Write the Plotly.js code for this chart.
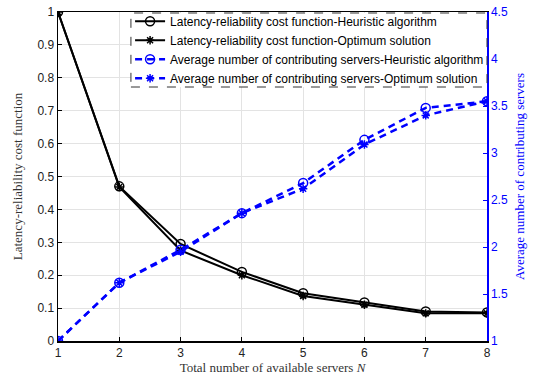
<!DOCTYPE html>
<html>
<head>
<meta charset="utf-8">
<script src="https://cdn.plot.ly/plotly-3.0.1.min.js"></script>
<style>html,body{margin:0;padding:0;background:#fff;}#chart{width:542px;height:380px;}</style>
</head>
<body>
<div id="chart"></div>
<script>
const N = [1, 2, 3, 4, 5, 6, 7, 8];
const costHeuristic = [1.0, 0.47, 0.295, 0.21, 0.145, 0.117, 0.09, 0.087];
const costOptimum = [1.0, 0.468, 0.275, 0.2, 0.137, 0.11, 0.084, 0.084];
const serversHeuristic = [1.0, 1.62, 1.97, 2.36, 2.68, 3.14, 3.48, 3.55];
const serversOptimum = [1.0, 1.62, 1.95, 2.36, 2.62, 3.09, 3.40, 3.55];
const names = [
  'Latency-reliability cost function-Heuristic algorithm',
  'Latency-reliability cost function-Optimum solution',
  'Average number of contributing servers-Heuristic algorithm',
  'Average number of contributing servers-Optimum solution'
];
const xTicks = [1, 2, 3, 4, 5, 6, 7, 8];
const yTicks = [0, 0.1, 0.2, 0.3, 0.4, 0.5, 0.6, 0.7, 0.8, 0.9, 1];
const y2Ticks = [1, 1.5, 2, 2.5, 3, 3.5, 4, 4.5];

const traces = [
  {x: N, y: costHeuristic, name: names[0], mode: 'lines+markers',
   line: {color: '#000', width: 2}, marker: {symbol: 'circle-open', size: 9, color: '#000', line: {width: 1.5}}},
  {x: N, y: costOptimum, name: names[1], mode: 'lines+markers',
   line: {color: '#000', width: 2}, marker: {symbol: 'asterisk-open', size: 7, color: '#000', line: {width: 1.5}}},
  {x: N, y: serversHeuristic, name: names[2], mode: 'lines+markers', yaxis: 'y2',
   line: {color: '#0000ff', width: 2.5, dash: '7px,5px'}, marker: {symbol: 'circle-open', size: 9, color: '#0000ff', line: {width: 1.5}}},
  {x: N, y: serversOptimum, name: names[3], mode: 'lines+markers', yaxis: 'y2',
   line: {color: '#0000ff', width: 2.5, dash: '7px,5px'}, marker: {symbol: 'asterisk-open', size: 7, color: '#0000ff', line: {width: 1.5}}}
];

const tickFont = {family: 'Liberation Sans, Arial, sans-serif', size: 12, color: '#222'};
const layout = {
  width: 542, height: 380,
  margin: {l: 58, r: 55, t: 12, b: 39, autoexpand: false},
  paper_bgcolor: '#fff', plot_bgcolor: '#fff',
  showlegend: true,
  legend: {
    x: 0.168, y: 1.016, xanchor: 'left', yanchor: 'top',
    bgcolor: 'rgba(0,0,0,0)', borderwidth: 0,
    font: {family: 'Liberation Sans, Arial, sans-serif', size: 12, color: '#000'},
    tracegroupgap: 0, itemwidth: 30
  },
  xaxis: {
    range: [1, 8], tickvals: xTicks, ticktext: xTicks.map(String),
    showgrid: true, gridcolor: '#e3e3e3', gridwidth: 1,
    showline: true, linecolor: '#000', linewidth: 1.5, mirror: true,
    ticks: 'inside', ticklen: 4, tickcolor: '#000',
    zeroline: false, tickfont: tickFont,
    title: {text: 'Total number of available servers <i>N</i>', standoff: 4,
            font: {family: 'Liberation Serif, DejaVu Serif, serif', size: 13, color: '#333'}}
  },
  yaxis: {
    range: [0, 1], tickvals: yTicks, ticktext: yTicks.map(String),
    showgrid: true, gridcolor: '#e3e3e3', gridwidth: 1,
    showline: true, linecolor: '#000', linewidth: 1.5,
    ticks: 'inside', ticklen: 4, tickcolor: '#000',
    zeroline: false, tickfont: tickFont,
    title: {text: 'Latency-reliability cost function', standoff: 12,
            font: {family: 'Liberation Serif, DejaVu Serif, serif', size: 13, color: '#333'}}
  },
  yaxis2: {
    overlaying: 'y', side: 'right', range: [1, 4.5],
    tickvals: y2Ticks, ticktext: y2Ticks.map(String),
    showgrid: false, showline: true, linecolor: '#0000ff', linewidth: 1.5,
    ticks: 'inside', ticklen: 4, tickcolor: '#0000ff',
    zeroline: false,
    tickfont: {family: 'Liberation Sans, Arial, sans-serif', size: 12, color: '#0000ff'},
    title: {text: 'Average number of contributing servers', standoff: 8,
            font: {family: 'Liberation Serif, DejaVu Serif, serif', size: 13, color: '#0000ff'}}
  },
  shapes: [{
    type: 'rect', xref: 'paper', yref: 'paper', layer: 'above',
    x0: 0.170, x1: 1.0, y0: 0.772, y1: 0.997,
    fillcolor: '#fff', line: {color: '#333', width: 1, dash: 'dash'}
  }]
};

Plotly.newPlot('chart', traces, layout, {displayModeBar: false, staticPlot: true});
</script>
</body>
</html>
